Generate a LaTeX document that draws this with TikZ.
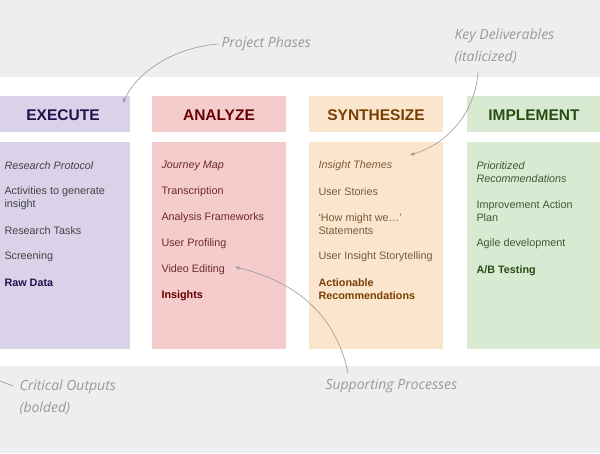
\documentclass[tikz,border=0pt]{standalone}
\usepackage{fontspec}
\setmainfont{Liberation Sans}
\newfontfamily\hand{Open Sans}
\usetikzlibrary{arrows.meta}
\definecolor{bgg}{HTML}{EEEEEE}
\definecolor{fe}{HTML}{D9D2E9}\definecolor{fa}{HTML}{F4CCCC}\definecolor{fs}{HTML}{FCE5CD}\definecolor{fi}{HTML}{D9EAD3}
\definecolor{he}{HTML}{20124D}\definecolor{ha}{HTML}{660000}\definecolor{hs}{HTML}{783F04}\definecolor{hi}{HTML}{274E13}
\definecolor{te}{HTML}{444444}\definecolor{ta}{HTML}{6E2A2A}\definecolor{ts}{HTML}{7A5A3A}\definecolor{ti}{HTML}{3D5A30}
\definecolor{ann}{HTML}{999999}
\begin{document}
\begin{tikzpicture}[x=1pt,y=-1pt,
  hdr/.style={font=\bfseries\fontsize{15.5}{17}\selectfont},
  itm/.style={anchor=west,align=left,font=\fontsize{10.8}{13}\selectfont},
  anntext/.style={anchor=west,align=left,text=ann,font=\hand\itshape\fontsize{14}{22}\selectfont},
  arr/.style={draw=ann,line width=0.6pt,-{Stealth[length=5pt]}}]
\useasboundingbox (0,0) rectangle (600,453);
\fill[bgg] (0,0) rectangle (600,77);
\fill[bgg] (0,366) rectangle (600,453);
% columns
\fill[fe] (0,96) rectangle (130,132); \fill[fe] (0,142) rectangle (130,349);
\fill[fa] (152,96) rectangle (286,132); \fill[fa] (152,142) rectangle (286,349);
\fill[fs] (309,96) rectangle (443,132); \fill[fs] (309,142) rectangle (443,349);
\fill[fi] (467,96) rectangle (600,132); \fill[fi] (467,142) rectangle (600,349);
\node[hdr,text=he] (hE) at (63,115) {EXECUTE};
\node[hdr,text=ha] (hA) at (219,115) {ANALYZE};
\node[hdr,text=hs] (hS) at (376,115) {SYNTHESIZE};
\node[hdr,text=hi] (hI) at (534,115) {IMPLEMENT};
% execute
\begin{scope}[every node/.append style={itm,text=te}]
\node (e1) at (1,166) {\itshape Research Protocol};
\node (e2) at (1,198) {Activities to generate\\insight};
\node (e3) at (1,231) {Research Tasks};
\node (e4) at (1,257) {Screening};
\node[text=he] (e5) at (1,283) {\bfseries Raw Data};
\end{scope}
\begin{scope}[every node/.append style={itm,text=ta}]
\node (a1) at (158,166) {\itshape Journey Map};
\node (a2) at (158,192) {Transcription};
\node (a3) at (158,218) {Analysis Frameworks};
\node (a4) at (158,244) {User Profiling};
\node (a5) at (158,270) {Video Editing};
\node[text=ha] (a6) at (158,296) {\bfseries Insights};
\end{scope}
\begin{scope}[every node/.append style={itm,text=ts}]
\node (s1) at (315,166) {\itshape Insight Themes};
\node (s2) at (315,192) {User Stories};
\node (s3) at (315,224) {‘How might we…’\\Statements};
\node (s4) at (315,257) {User Insight Storytelling};
\node[text=hs] (s5) at (315,289) {\bfseries Actionable\\\bfseries Recommendations};
\end{scope}
\begin{scope}[every node/.append style={itm,text=ti}]
\node (i1) at (473,172) {\itshape Prioritized\\\itshape Recommendations};
\node (i2) at (473,211) {Improvement Action\\Plan};
\node (i3) at (473,244) {Agile development};
\node[text=hi] (i4) at (473,271) {\bfseries A/B Testing};
\end{scope}
% annotations
\node[anntext] (pp) at (218,44) {Project Phases};
\node[anntext] (kd) at (451,46) {Key Deliverables\\(italicized)};
\node[anntext] (co) at (16,397) {Critical Outputs\\(bolded)};
\node[anntext] (sp) at (322,386) {Supporting Processes};
\coordinate (ppt) at (123,103);
\coordinate (kdt) at (410,155);
\coordinate (spt) at (235,267);
\coordinate (cos) at (0,381);
\coordinate (coe) at (13,386);
\draw[arr] (pp.west) .. controls (170,48) and (135,75) .. (ppt);
\draw[arr] (478,72) .. controls (475,115) and (445,145) .. (kdt);
\draw[arr] (348,373) .. controls (335,310) and (290,280) .. (spt);
\draw[draw=ann,line width=0.6pt] (cos) -- (coe);
\end{tikzpicture}
\end{document}
